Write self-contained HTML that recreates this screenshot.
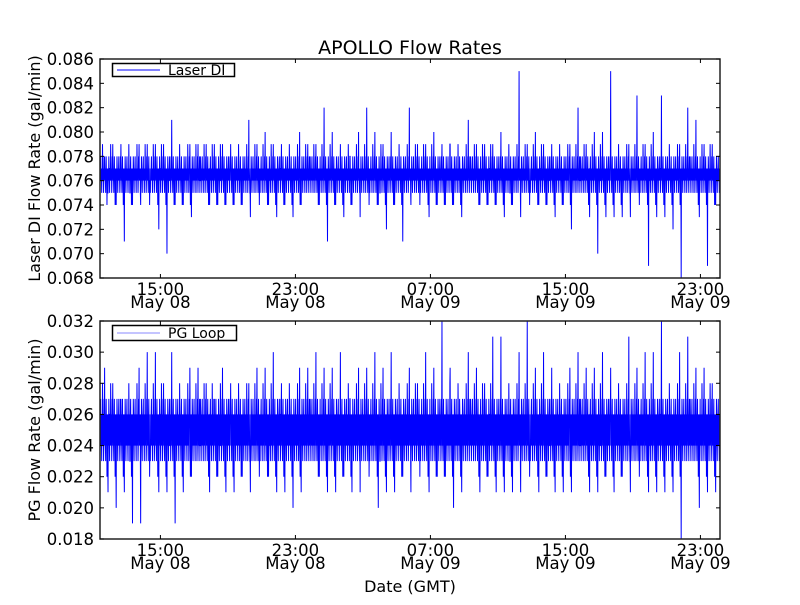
<!DOCTYPE html>
<html><head><meta charset="utf-8"><style>
html,body{margin:0;padding:0;background:#fff;}
svg text{font-family:"DejaVu Sans","Liberation Sans",sans-serif;fill:#000;}
</style></head><body>
<svg id="chart" width="800" height="600" xmlns="http://www.w3.org/2000/svg">
<rect width="800" height="600" fill="#fff"/>
<text x="410" y="54" font-size="19" text-anchor="middle">APOLLO Flow Rates</text>
<text x="410" y="592" font-size="16" text-anchor="middle">Date (GMT)</text>
</svg>
<script>
// time axis in hours since May 08 00:00
const xTickHours = [15, 23, 31, 39, 47];
const xTickTimes = ["15:00","23:00","07:00","15:00","23:00"];
const xTickDates = ["May 08","May 08","May 09","May 09","May 09"];
const tStart = 11.42, tEnd = 48.16;
const binHours = (tEnd - tStart) / 62;

// Laser DI (top)
const laserTicks = [0.068,0.070,0.072,0.074,0.076,0.078,0.080,0.082,0.084,0.086];
const laserBand = [0.076, 0.077, 0.075, 0.078, 0.079, 0.074];
const laserMax = [0.078,0.079,0.079,0.079,0.079,0.079,0.079,0.081,0.079,0.079,0.079,0.079,0.079,0.079,0.081,0.079,0.080,0.079,0.079,0.080,0.079,0.079,0.082,0.080,0.079,0.080,0.082,0.080,0.079,0.080,0.082,0.079,0.079,0.080,0.079,0.079,0.081,0.079,0.079,0.079,0.080,0.085,0.079,0.080,0.079,0.079,0.079,0.082,0.079,0.080,0.080,0.085,0.079,0.083,0.079,0.080,0.083,0.079,0.082,0.081,0.079,0.079];
const laserMin = [0.075,0.074,0.071,0.074,0.074,0.072,0.070,0.074,0.074,0.073,0.074,0.074,0.074,0.074,0.074,0.073,0.074,0.073,0.074,0.073,0.074,0.074,0.071,0.074,0.073,0.074,0.073,0.074,0.072,0.074,0.071,0.074,0.073,0.074,0.074,0.074,0.073,0.074,0.074,0.074,0.073,0.074,0.073,0.074,0.074,0.073,0.074,0.072,0.073,0.070,0.073,0.073,0.073,0.073,0.069,0.073,0.073,0.072,0.068,0.073,0.069,0.074];

// PG Loop (bottom)
const pgTicks = [0.018,0.020,0.022,0.024,0.026,0.028,0.030,0.032];
const pgBand = [0.024, 0.026, 0.023, 0.027, 0.028, 0.022];
const pgMax = [0.029,0.028,0.027,0.029,0.030,0.030,0.028,0.030,0.029,0.029,0.028,0.027,0.029,0.028,0.028,0.029,0.029,0.030,0.028,0.029,0.029,0.030,0.029,0.029,0.030,0.029,0.029,0.030,0.029,0.030,0.029,0.028,0.030,0.029,0.032,0.029,0.030,0.029,0.028,0.031,0.031,0.030,0.032,0.029,0.030,0.029,0.029,0.030,0.029,0.029,0.030,0.029,0.031,0.029,0.030,0.030,0.032,0.030,0.031,0.029,0.029,0.028];
const pgMin = [0.021,0.020,0.021,0.019,0.019,0.021,0.021,0.019,0.021,0.022,0.021,0.022,0.021,0.021,0.022,0.021,0.022,0.021,0.021,0.020,0.021,0.022,0.021,0.021,0.022,0.021,0.021,0.020,0.021,0.021,0.022,0.021,0.021,0.022,0.022,0.020,0.021,0.021,0.022,0.021,0.021,0.021,0.021,0.021,0.022,0.021,0.021,0.021,0.021,0.021,0.022,0.021,0.022,0.021,0.021,0.021,0.021,0.021,0.018,0.020,0.021,0.021];

const svg = document.getElementById('chart');
const NS = 'http://www.w3.org/2000/svg';
const X0 = 100, X1 = 720;
const xScale = t => X0 + (t - tStart) / (tEnd - tStart) * (X1 - X0);

function mk(tag, attrs, parent) {
  const e = document.createElementNS(NS, tag);
  for (const k in attrs) e.setAttribute(k, attrs[k]);
  (parent || svg).appendChild(e);
  return e;
}

function panel(name, top, bottom, ticks, band, maxArr, minArr, label, legendText, legendColor) {
  const g = mk('g', {});
  
  
  const lo = ticks[0], hi = ticks[ticks.length - 1];
  const y = v => bottom - (v - lo) / (hi - lo) * (bottom - top);
  const pattern = [0,1,3,0,1,0,2,1,0,4,1,0,1,2,0,3,1,'max',0,1,0,2,1,3,0,1,5,0,1,2,'min',1,0,3,1,0,2,1];
  let d = '';
  for (let i = 0; i < maxArr.length; i++) {
    const t0 = tStart + i * binHours;
    const n = pattern.length;
    for (let k = 0; k < n; k++) {
      const p = pattern[(k + i * 7) % n];
      const v = p === 'max' ? maxArr[i] : p === 'min' ? minArr[i] : band[p];
      const px = xScale(t0 + (k + 0.5) / n * binHours);
      d += (d ? 'L' : 'M') + px.toFixed(2) + ',' + y(v).toFixed(2);
    }
  }
  const clip = mk('clipPath', {id: name + '-clip'}, g);
  mk('rect', {x: X0, y: top, width: X1 - X0, height: bottom - top}, clip);
  const line = mk('path', {d: d, fill: 'none', stroke: '#0000ff', 'stroke-width': 1, 'clip-path': 'url(#' + name + '-clip)'}, g);
  
  
  const fr = mk('rect', {x: X0, y: top, width: X1 - X0, height: bottom - top, fill: 'none', stroke: '#222', 'stroke-width': 1.5}, g);
  
  
  ticks.forEach(v => {
    const yy = y(v);
    mk('line', {x1: X0, x2: X0 + 4, y1: yy, y2: yy, stroke: '#000'}, g);
    mk('line', {x1: X1, x2: X1 - 4, y1: yy, y2: yy, stroke: '#000'}, g);
    const tl = mk('text', {x: X0 - 6, y: yy + 6, 'font-size': 16.5, 'text-anchor': 'end'}, g);
    tl.textContent = v.toFixed(3);
    
    
  });
  xTickHours.forEach((h, i) => {
    const xx = xScale(h);
    mk('line', {x1: xx, x2: xx, y1: bottom, y2: bottom - 4, stroke: '#000'}, g);
    mk('line', {x1: xx, x2: xx, y1: top, y2: top + 4, stroke: '#000'}, g);
    const a = mk('text', {x: xx, y: bottom + 17, 'font-size': 16.5, 'text-anchor': 'middle'}, g);
    a.textContent = xTickTimes[i];
    
    
    const b = mk('text', {x: xx, y: bottom + 30, 'font-size': 16.5, 'text-anchor': 'middle'}, g);
    b.textContent = xTickDates[i];
    
    
  });
  const cy = (top + bottom) / 2;
  const yl = mk('text', {x: 40, y: cy, 'font-size': 16, 'text-anchor': 'middle', transform: 'rotate(-90 40 ' + cy + ')'}, g);
  yl.textContent = label;
  
  
  const lg = mk('g', {}, g);
  
  
  const w = legendText === 'PG Loop' ? 124 : 122;
  const h = legendText === 'PG Loop' ? 15 : 13;
  mk('rect', {x: 112.5, y: top + 4.5, width: w, height: h, fill: '#fff', stroke: '#000', 'stroke-width': 1.5}, lg);
  mk('line', {x1: 117, x2: 160, y1: top + 4.5 + h / 2, y2: top + 4.5 + h / 2, stroke: legendColor}, lg);
  const lt = mk('text', {x: 168, y: top + 4.5 + h / 2 + 5, 'font-size': 14}, lg);
  lt.textContent = legendText;
  
  
}

panel('laser-di', 59, 278, laserTicks, laserBand, laserMax, laserMin, 'Laser DI Flow Rate (gal/min)', 'Laser DI', '#0000ff');
panel('pg-loop', 321, 539, pgTicks, pgBand, pgMax, pgMin, 'PG Flow Rate (gal/min)', 'PG Loop', '#8888ff');
</script>
</body></html>
